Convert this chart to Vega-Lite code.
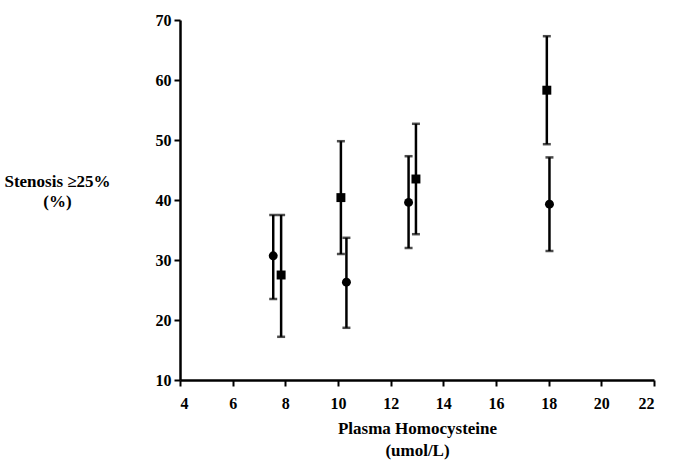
{
  "$schema": "https://vega.github.io/schema/vega-lite/v6.json",
  "width": 474,
  "height": 360,
  "autosize": {"type": "none"},
  "padding": {"left": 180, "top": 20, "right": 23, "bottom": 84},
  "background": "white",
  "config": {
    "view": {"stroke": null},
    "font": "Liberation Serif",
    "axis": {
      "grid": false,
      "domainColor": "black",
      "domainWidth": 2.5,
      "tickColor": "black",
      "tickWidth": 2,
      "tickSize": 6,
      "labelFont": "Liberation Serif",
      "labelFontSize": 16,
      "labelFontWeight": "bold",
      "labelColor": "black",
      "titleFont": "Liberation Serif",
      "titleFontSize": 17,
      "titleFontWeight": "bold",
      "titleColor": "black"
    }
  },
  "data": {
    "values": [
      {"hcy": 7.54, "pct": 30.7, "lo": 23.5, "hi": 37.5, "group": "circle"},
      {"hcy": 7.84, "pct": 27.5, "lo": 17.2, "hi": 37.5, "group": "square"},
      {"hcy": 10.11, "pct": 40.4, "lo": 31.0, "hi": 49.8, "group": "square"},
      {"hcy": 10.32, "pct": 26.3, "lo": 18.7, "hi": 33.7, "group": "circle"},
      {"hcy": 12.68, "pct": 39.6, "lo": 32.0, "hi": 47.3, "group": "circle"},
      {"hcy": 12.96, "pct": 43.5, "lo": 34.3, "hi": 52.7, "group": "square"},
      {"hcy": 17.93, "pct": 58.3, "lo": 49.3, "hi": 67.3, "group": "square"},
      {"hcy": 18.03, "pct": 39.3, "lo": 31.5, "hi": 47.1, "group": "circle"}
    ]
  },
  "encoding": {
    "x": {
      "field": "hcy",
      "type": "quantitative",
      "scale": {"domain": [4, 22], "nice": false, "zero": false},
      "axis": {
        "values": [4, 6, 8, 10, 12, 14, 16, 18, 20, 22],
        "title": ["Plasma Homocysteine", "(umol/L)"],
        "labelPadding": 9,
        "titlePadding": 9,
        "titleLineHeight": 22
      }
    }
  },
  "layer": [
    {
      "mark": {"type": "errorbar", "ticks": {"size": 8, "thickness": 2.5, "color": "black"}, "rule": {"strokeWidth": 2.5, "color": "black"}},
      "encoding": {
        "y": {
          "field": "lo",
          "type": "quantitative",
          "scale": {"domain": [10, 70], "nice": false, "zero": false},
          "axis": {
            "values": [10, 20, 30, 40, 50, 60, 70],
            "title": ["Stenosis \u226525%", "(%)"],
            "titleAngle": 0,
            "titleAlign": "center",
            "titleBaseline": "middle",
            "titleX": -123,
            "titleY": 161,
            "titleLineHeight": 20,
            "labelPadding": 3
          }
        },
        "y2": {"field": "hi"}
      }
    },
    {
      "mark": {"type": "point", "filled": true, "opacity": 1, "color": "black"},
      "encoding": {
        "y": {"field": "pct", "type": "quantitative"},
        "shape": {
          "field": "group",
          "type": "nominal",
          "scale": {"domain": ["circle", "square"], "range": ["circle", "square"]},
          "legend": null
        },
        "size": {"value": 80}
      }
    }
  ]
}
